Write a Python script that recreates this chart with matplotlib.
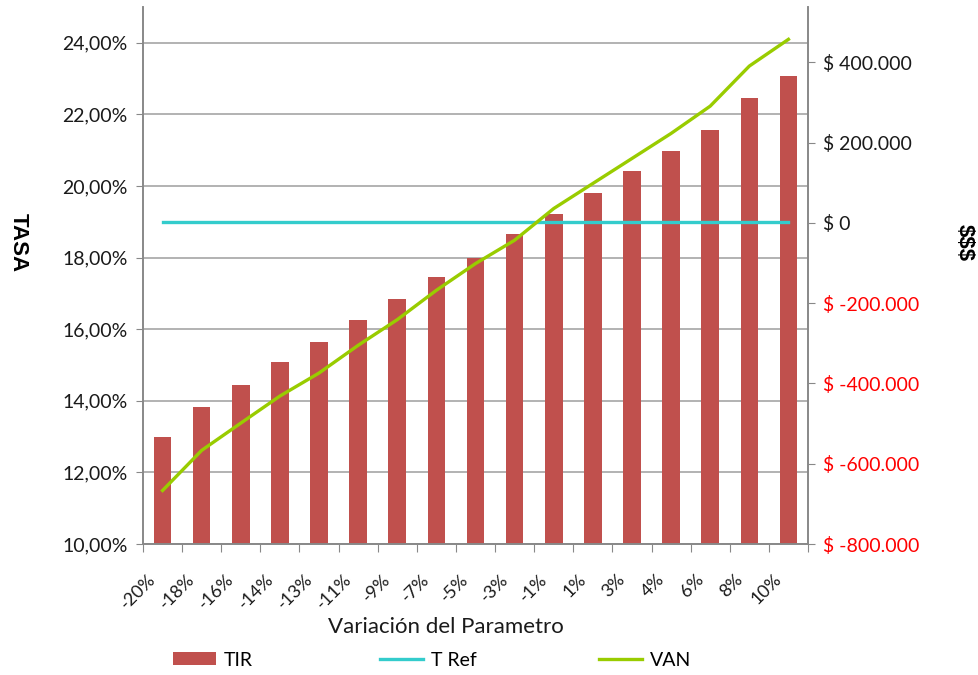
import matplotlib
matplotlib.use("Agg")
import matplotlib.pyplot as plt
from matplotlib.ticker import FuncFormatter, FixedLocator
from matplotlib.transforms import ScaledTranslation
import numpy as np

categories = ["-20%", "-18%", "-16%", "-14%", "-13%", "-11%", "-9%", "-7%", "-5%",
              "-3%", "-1%", "1%", "3%", "4%", "6%", "8%", "10%"]
tir = [13.00, 13.83, 14.45, 15.09, 15.65, 16.26, 16.85, 17.46, 18.00,
       18.65, 19.21, 19.81, 20.41, 20.97, 21.56, 22.45, 23.07]
t_ref = [19.0] * len(categories)
van = [-666700, -566700, -498800, -431400, -374000, -305000, -241000, -167800, -101300,
       -43100, 35900, 98300, 160600, 223000, 291000, 390800, 457400]
left_ticks = [10, 12, 14, 16, 18, 20, 22, 24]
right_ticks = [-800000, -600000, -400000, -200000, 0, 200000, 400000]

plt.rcParams['font.family'] = ['Lato', 'DejaVu Sans']
FS = 14
GRAY = '#888888'

fig = plt.figure(figsize=(9.79, 6.75), dpi=100)
ax = fig.add_axes([143/979, 1-544/675, (808-143)/979, (544-7)/675])
ax2 = ax.twinx()

x = np.arange(len(categories))
bars = ax.bar(x, tir, width=0.45, color='#C0504D', zorder=2, label='TIR')
ref_line, = ax.plot(x, t_ref, color='#33CCCC', lw=2.4, zorder=3, label='T Ref')
van_line, = ax2.plot(x, van, color='#99CC00', lw=2.4, zorder=3, label='VAN')

ax.set_xlim(-0.5, len(categories) - 0.5)
ax.set_ylim(10, 25)
ax2.set_ylim(-800000, 538000)

ax.yaxis.set_major_locator(FixedLocator(left_ticks))
ax.yaxis.set_major_formatter(FuncFormatter(lambda v, p: f"{v:.2f}%".replace('.', ',')))
ax.grid(axis='y', color='#A6A6A6', lw=1.2, zorder=0)
ax.set_axisbelow(True)

def money(v, p):
    s = f"{abs(int(round(v))):,}".replace(',', '.')
    return f"$ -{s}" if v < 0 else f"$ {s}"

ax2.yaxis.set_major_locator(FixedLocator(right_ticks))
ax2.yaxis.set_major_formatter(FuncFormatter(money))

# x ticks at category boundaries, labels at centers
ax.set_xticks(np.arange(-0.5, len(categories) + 0.5, 1.0))
ax.set_xticklabels([])
ax.set_xticks(x, minor=True)
ax.set_xticklabels(categories, minor=True, rotation=45, ha='right', rotation_mode='anchor',
                   fontsize=13, color='#1a1a1a')
ax.tick_params(axis='x', which='minor', length=0, pad=14)
ax.tick_params(axis='x', which='major', length=6, color=GRAY, direction='out')
offset = ScaledTranslation(-15/100, -8/100, fig.dpi_scale_trans)
for lab in ax.get_xticklabels(minor=True):
    lab.set_transform(lab.get_transform() + offset)
ax.tick_params(axis='y', length=5, color=GRAY, labelsize=FS, labelcolor='#1a1a1a', pad=6)
ax2.tick_params(axis='y', length=5, color=GRAY, labelsize=FS, pad=6)
for lab, v in zip(ax2.get_yticklabels(), right_ticks):
    lab.set_color('#FF0000' if v < 0 else '#1a1a1a')

for a in (ax, ax2):
    a.spines['top'].set_visible(False)
    for s in ('left', 'right', 'bottom'):
        a.spines[s].set_color(GRAY)
        a.spines[s].set_linewidth(1.2)

fig.text(18/979, 1-243/675, 'TASA', rotation=-90, fontsize=16, fontweight='bold',
         family=['Liberation Sans', 'DejaVu Sans'], ha='center', va='center')
fig.text(964/979, 1-243/675, '$$$', rotation=-90, fontsize=16, fontweight='bold',
         family=['Liberation Sans', 'DejaVu Sans'], ha='center', va='center')
fig.text(446/979, 1-627/675, 'Variación del Parametro', fontsize=16, ha='center', va='center',
         color='#1a1a1a')

for handle, label, xpos in zip([bars, ref_line, van_line], ['TIR', 'T Ref', 'VAN'],
                               [173, 380, 599]):
    fig.legend([handle], [label], loc='center left', bbox_to_anchor=(xpos/979, 1-660/675),
               frameon=False, fontsize=FS, handlelength=2.2, handleheight=0.6,
               handletextpad=0.4, borderaxespad=0, borderpad=0)

fig.savefig('out.png', dpi=100)
